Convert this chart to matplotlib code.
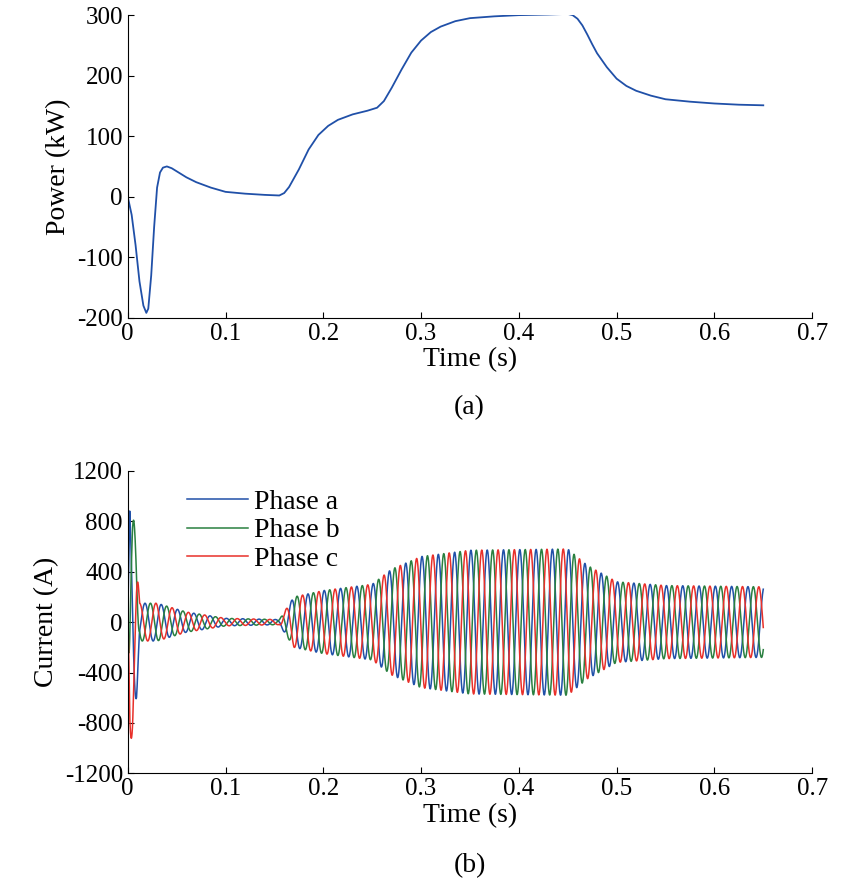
import numpy as np
import matplotlib.pyplot as plt

plt.rcParams['font.family'] = ['Liberation Serif', 'DejaVu Serif']
plt.rcParams['axes.unicode_minus'] = False

# power trace
p_time = [0, 0.004, 0.008, 0.012, 0.016, 0.019, 0.021, 0.024, 0.027, 0.03, 0.033, 0.036, 0.04,
          0.045, 0.05, 0.06, 0.07, 0.085, 0.1, 0.12, 0.14, 0.155, 0.16, 0.165, 0.175, 0.185,
          0.195, 0.205, 0.215, 0.23, 0.245, 0.255, 0.262, 0.27, 0.28, 0.29, 0.3, 0.31, 0.32,
          0.335, 0.35, 0.375, 0.4, 0.43, 0.45, 0.455, 0.46, 0.465, 0.47, 0.475, 0.48, 0.49,
          0.5, 0.51, 0.52, 0.535, 0.55, 0.575, 0.6, 0.625, 0.65]
p_kw = [0, -30, -80, -140, -180, -192, -185, -130, -50, 15, 40, 48, 50,
        47, 42, 32, 24, 15, 8, 5, 3, 2, 6, 16, 45, 78,
        102, 117, 127, 136, 142, 147, 158, 180, 210, 238, 258, 272, 281,
        290, 295, 298, 300, 301, 302, 300, 294, 283, 268, 252, 237, 214,
        195, 183, 175, 167, 161, 157, 154, 152, 151]

# current envelope
env_time = [0, 0.002, 0.005, 0.009, 0.012, 0.03, 0.06, 0.1, 0.155, 0.17, 0.2, 0.25, 0.27,
            0.3, 0.35, 0.45, 0.47, 0.5, 0.55, 0.65]
env_amp = [0, 950, 900, 600, 150, 150, 80, 30, 20, 200, 250, 300, 420,
           520, 570, 580, 450, 320, 290, 280]
freq = 60.0
phase_names = ['Phase a', 'Phase b', 'Phase c']
phase_colors = ['#2050a8', '#2a8040', '#e8302a']

fig = plt.figure(figsize=(8.46, 8.9), dpi=100)
ax1 = fig.add_axes([0.151, 0.643, 0.809, 0.340])
ax2 = fig.add_axes([0.151, 0.131, 0.809, 0.340])

ax1.plot(p_time, p_kw, color='#2050a8', lw=1.3)
ax1.set_xlim(0, 0.7)
ax1.set_ylim(-200, 300)
ax1.set_yticks([-200, -100, 0, 100, 200, 300])
ax1.set_ylabel('Power (kW)', fontsize=20)
ax1.set_xlabel('Time (s)', fontsize=20, labelpad=2)
fig.text(0.555, 0.535, '(a)', ha='center', fontsize=20)

t = np.arange(0, 0.6501, 0.0002)
env = np.interp(t, env_time, env_amp)
for k in range(3):
    i = env * np.sin(2 * np.pi * freq * t - k * 2 * np.pi / 3 + 1.2)
    ax2.plot(t, i, color=phase_colors[k], lw=1.1, label=phase_names[k])
ax2.set_xlim(0, 0.7)
ax2.set_ylim(-1200, 1200)
ax2.set_yticks(np.arange(-1200, 1201, 400))
ax2.set_ylabel('Current (A)', fontsize=20)
ax2.set_xlabel('Time (s)', fontsize=20, labelpad=2)
ax2.legend(loc='upper left', bbox_to_anchor=(0.05, 1.02), frameon=False, fontsize=20,
           handlelength=2.2, handletextpad=0.2, labelspacing=0.1)
fig.text(0.555, 0.02, '(b)', ha='center', fontsize=20)

for ax in (ax1, ax2):
    ax.set_xticks(np.arange(0, 0.71, 0.1))
    ax.set_xticklabels(['0', '0.1', '0.2', '0.3', '0.4', '0.5', '0.6', '0.7'])
    ax.spines['top'].set_visible(False)
    ax.spines['right'].set_visible(False)
    ax.tick_params(labelsize=18, direction='in', length=4)

fig.savefig('out.png')
